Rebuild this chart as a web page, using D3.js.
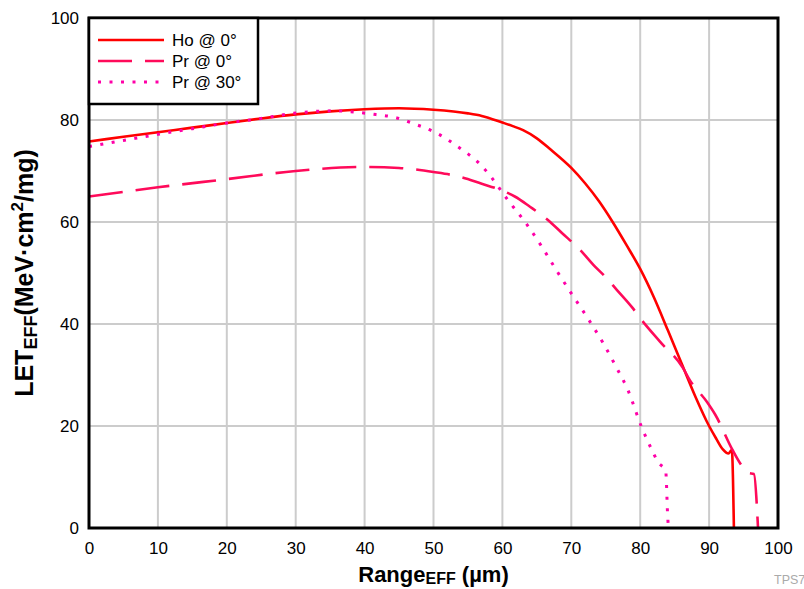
<!DOCTYPE html>
<html>
<head>
<meta charset="utf-8">
<script src="https://cdn.jsdelivr.net/npm/d3@7"></script>
<style>
  body { margin: 0; background: #fff; }
  svg { display: block; font-family: "Liberation Sans", Arial, Helvetica, sans-serif; }
</style>
</head>
<body>
<div id="chart"></div>
<script>
// values
const hoX = [0, 5, 10, 15, 20, 25, 30, 35, 40, 45, 50, 55, 57, 60, 61.5, 63, 65, 67, 70, 72, 74, 76, 78, 80, 82, 84, 86, 88, 90, 91, 92, 92.8, 93.3, 93.6];
const hoY = [75.8, 76.7, 77.6, 78.5, 79.4, 80.3, 81.1, 81.7, 82.1, 82.3, 82.0, 81.3, 80.8, 79.5, 78.8, 78.0, 76.4, 74.2, 70.6, 67.6, 64.1, 60.0, 55.5, 50.8, 45.2, 38.8, 32.3, 25.8, 20.0, 17.6, 15.4, 14.6, 15.3, 0];

const pr0X = [0, 10, 20, 30, 40, 45, 50, 53.4, 57, 59.7, 61.8, 64, 66.6, 68.6, 71.3, 73.2, 74.9, 76.6, 78.8, 80.2, 82.9, 86.2, 87.2, 89.7, 90.9, 93.4, 94.5, 95.7, 96.5, 97.1];
const pr0Y = [65.0, 66.8, 68.4, 70.0, 70.8, 70.6, 69.8, 69.0, 67.5, 66.3, 65.0, 63.0, 60.4, 57.9, 54.5, 51.6, 49.3, 46.7, 43.3, 40.8, 36.5, 31.4, 29.0, 24.7, 22.2, 15.3, 12.7, 10.8, 10.6, 0];

const pr30X = [0, 5, 10, 15, 20, 25, 29, 35.7, 39, 42, 44.1, 47.3, 50.5, 53.6, 56.7, 58.2, 60.8, 63.4, 65.7, 67.9, 70.1, 72.4, 74.6, 76.5, 78.2, 80.2, 81.7, 82.6, 83.7, 84.0, 84.1];
const pr30Y = [74.8, 76.0, 77.2, 78.3, 79.4, 80.3, 81.2, 81.8, 81.5, 81.0, 80.6, 79.2, 77.4, 74.7, 71.4, 69.1, 64.3, 59.8, 55.2, 50.4, 45.8, 41.1, 36.3, 31.6, 27.1, 19.8, 15.3, 12.9, 11.2, 2, 0];

const seriesNames = ["Ho @ 0\u00b0", "Pr @ 0\u00b0", "Pr @ 30\u00b0"];
const seriesColors = ["#ff0000", "#ff0a5a", "#ff00a8"];
const seriesDash = [null, "34,13", "3,8.5"];

const xTicks = [0, 10, 20, 30, 40, 50, 60, 70, 80, 90, 100];
const yTicks = [0, 20, 40, 60, 80, 100];

const margin = { top: 18, right: 26, bottom: 61, left: 89 },
  width = 804 - margin.left - margin.right,
  height = 589 - margin.top - margin.bottom;

const svg = d3.select("#chart")
  .append("svg")
  .attr("width", 804)
  .attr("height", 589);

const g = svg.append("g")
  .attr("transform", `translate(${margin.left},${margin.top})`);

const xScale = d3.scaleLinear().domain([0, 100]).range([0, width]);
const yScale = d3.scaleLinear().domain([0, 100]).range([height, 0]);

// grid
g.append("g")
  .selectAll("line")
  .data(xTicks.slice(1, -1))
  .enter()
  .append("line")
  .attr("x1", d => xScale(d)).attr("x2", d => xScale(d))
  .attr("y1", 0).attr("y2", height)
  .attr("stroke", "#cccccc")
  .attr("stroke-width", 2);

g.append("g")
  .selectAll("line")
  .data(yTicks.slice(1, -1))
  .enter()
  .append("line")
  .attr("x1", 0).attr("x2", width)
  .attr("y1", d => yScale(d)).attr("y2", d => yScale(d))
  .attr("stroke", "#cccccc")
  .attr("stroke-width", 2);

// series
const series = [
  { x: hoX, y: hoY },
  { x: pr0X, y: pr0Y },
  { x: pr30X, y: pr30Y }
];

const line = d3.line()
  .x(d => xScale(d[0]))
  .y(d => yScale(d[1]))
  .curve(d3.curveMonotoneX);

series.forEach((s, i) => {
  const pts = s.x.map((v, k) => [v, s.y[k]]);
  g.append("path")
    .datum(pts)
    .attr("fill", "none")
    .attr("stroke", seriesColors[i])
    .attr("stroke-width", i == 2 ? 3 : 2.6)
    .attr("stroke-dasharray", seriesDash[i])
    .attr("d", line);
});

// axes labels
const xAxis = d3.axisBottom(xScale).tickValues(xTicks).tickSize(0).tickPadding(14);
const yAxis = d3.axisLeft(yScale).tickValues(yTicks).tickSize(0).tickPadding(10);

const gx = g.append("g")
  .attr("transform", `translate(0, ${height})`)
  .call(xAxis);
gx.select(".domain").remove();
gx.selectAll("text").attr("font-size", 17).attr("fill", "#000")
  .attr("font-family", "'Liberation Sans', Arial, sans-serif");

const gy = g.append("g").call(yAxis);
gy.select(".domain").remove();
gy.selectAll("text").attr("font-size", 17).attr("fill", "#000")
  .attr("font-family", "'Liberation Sans', Arial, sans-serif");

// frame
g.append("rect")
  .attr("x", 0).attr("y", 0)
  .attr("width", width).attr("height", height)
  .attr("fill", "none")
  .attr("stroke", "#000")
  .attr("stroke-width", 3);

// legend
const legend = g.append("g");
legend.append("rect")
  .attr("x", 0).attr("y", 0)
  .attr("width", 169).attr("height", 86)
  .attr("fill", "#fff")
  .attr("stroke", "#000")
  .attr("stroke-width", 2.5);

seriesNames.forEach((name, i) => {
  const ly = 22 + i * 21;
  legend.append("line")
    .attr("x1", 9).attr("x2", 75)
    .attr("y1", ly).attr("y2", ly)
    .attr("stroke", seriesColors[i])
    .attr("stroke-width", i == 2 ? 3 : 2.6)
    .attr("stroke-dasharray", seriesDash[i]);
  legend.append("text")
    .attr("x", 83).attr("y", ly)
    .attr("dy", "0.35em")
    .attr("font-size", 17)
    .text(name);
});

// axis titles
const xt = svg.append("text")
  .attr("x", margin.left + width / 2)
  .attr("y", 582)
  .attr("text-anchor", "middle")
  .attr("font-weight", "bold")
  .attr("font-size", 22);
xt.append("tspan").text("Range");
xt.append("tspan").attr("font-size", 16).attr("dy", 2).text("EFF");
xt.append("tspan").attr("dy", -2).text(" (\u00b5m)");

const yt = svg.append("text")
  .attr("transform", `translate(33, ${margin.top + height / 2}) rotate(-90)`)
  .attr("text-anchor", "middle")
  .attr("font-weight", "bold")
  .attr("font-size", 25);
yt.append("tspan").text("LET");
yt.append("tspan").attr("font-size", 18).attr("dy", 4).text("EFF");
yt.append("tspan").attr("dy", -4).text("(MeV\u00b7cm");
yt.append("tspan").attr("font-size", 17).attr("dy", -10).text("2");
yt.append("tspan").attr("dy", 10).text("/mg)");

svg.append("text")
  .attr("x", 774).attr("y", 584)
  .attr("font-size", 12.5)
  .attr("fill", "#aaaaaa")
  .text("TPS7");
</script>
</body>
</html>
